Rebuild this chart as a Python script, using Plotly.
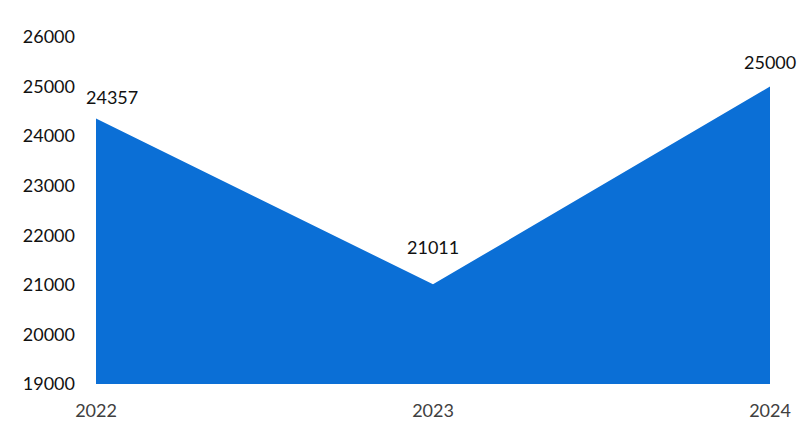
import plotly.graph_objects as go

years = [2022, 2023, 2024]
year_labels = ["2022", "2023", "2024"]
values = [24357, 21011, 25000]
y_ticks = [19000, 20000, 21000, 22000, 23000, 24000, 25000, 26000]

fill_color = "#0b6fd6"
font_family = "Lato, 'Noto Sans', sans-serif"

fig = go.Figure()
fig.add_trace(go.Scatter(
    x=years, y=values, mode="lines",
    line=dict(color=fill_color, width=0),
    fill="tozeroy", fillcolor=fill_color,
    hoverinfo="skip", showlegend=False,
))

xshifts = [16, 0, 0]
yshifts = [21, 37, 25]
for x, v, xs, ys in zip(years, values, xshifts, yshifts):
    fig.add_annotation(x=x, y=v, text=str(v), showarrow=False,
                       yshift=ys, xshift=xs,
                       font=dict(family=font_family, size=18, color="#111111"))

fig.update_layout(
    width=807, height=423,
    margin=dict(l=96, r=37, t=37, b=39, autoexpand=False),
    paper_bgcolor="white", plot_bgcolor="white",
    font=dict(family=font_family, size=18, color="#222222"),
    xaxis=dict(range=[2022, 2024], tickvals=years, ticktext=year_labels,
               showgrid=False, zeroline=False, showline=False,
               ticks="", ticklabelstandoff=14, automargin=False,
               tickfont=dict(color="#404040", size=18)),
    yaxis=dict(range=[19000, 26000], tickvals=y_ticks, tickformat="d",
               showgrid=False, zeroline=False, showline=False,
               ticks="", ticklabelstandoff=20, automargin=False,
               tickfont=dict(color="#111111", size=18)),
)

fig.write_html("out.html")
